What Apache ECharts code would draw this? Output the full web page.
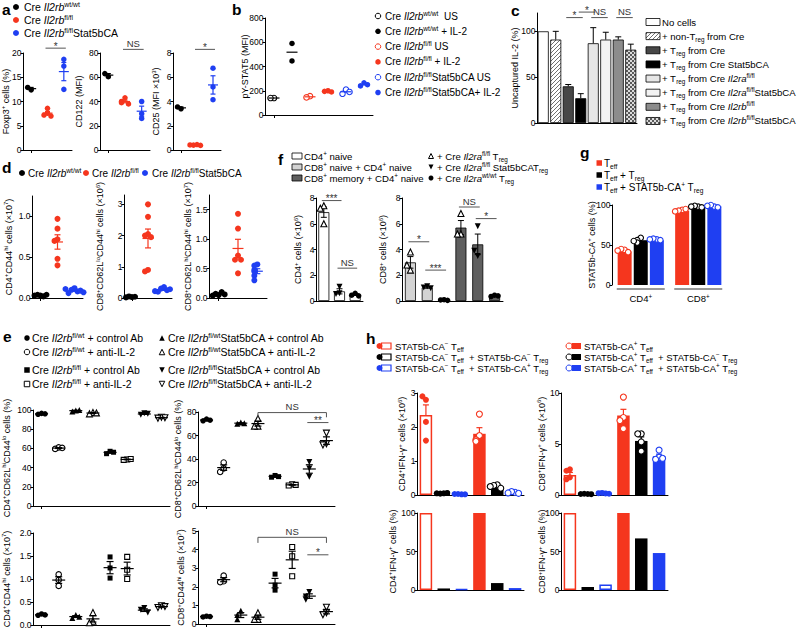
<!DOCTYPE html>
<html>
<head>
<meta charset="utf-8">
<script src="https://cdn.jsdelivr.net/npm/echarts@6/dist/echarts.min.js"></script>
<style>
html,body{margin:0;padding:0;background:#fff;}
#chart{width:800px;height:629px;}
</style>
</head>
<body>
<div id="chart"></div>
<script>
// ================= DATA =================
// panel a
const aGroups = ['Cre Il2rb wt/wt', 'Cre Il2rb fl/fl', 'Cre Il2rb fl/fl Stat5bCA'];
const aFoxp3 = [[12.4, 12.9], [8.6, 7.6, 7.2, 7.0], [18.7, 17.3, 12.5]];
const aCD122 = [[60.5, 63], [43, 40, 39, 38], [40, 30, 26]];
const aCD25 = [[3.4, 3.55], [0.45, 0.4, 0.38, 0.42], [6.75, 5.2, 4.15]];
const aTicksFoxp3 = [0, 5, 10, 15, 20];
const aTicksCD122 = [0, 20, 40, 60, 80];
const aTicksCD25 = [0, 2, 4, 6, 8];
// panel b
const bGroups = ['wt/wt US', 'wt/wt + IL-2', 'fl/fl US', 'fl/fl + IL-2', 'fl/fl Stat5bCA US', 'fl/fl Stat5bCA + IL-2'];
const bPSTAT5 = [[140, 140], [590, 446], [155, 145], [200, 195, 190], [210, 175, 190], [265, 240, 250]];
const bTicks = [0, 200, 400, 600, 800];
// panel c
const cConds = ['No cells', '+ non-Treg from Cre', '+ Treg from Cre', '+ Treg from Cre Stat5bCA',
  '+ Treg from Cre Il2ra fl/fl', '+ Treg from Cre Il2ra fl/fl Stat5bCA', '+ Treg from Cre Il2rb fl/fl', '+ Treg from Cre Il2rb fl/fl Stat5bCA'];
const cUncaptured = [100, 91, 40, 27, 87, 91, 91, 80];
const cSEM = [0, 9, 2, 5, 17, 8, 3, 6];
const cTicks = [0, 50, 100];
// panel d
const dGroups = ['Cre Il2rb wt/wt', 'Cre Il2rb fl/fl', 'Cre Il2rb fl/fl Stat5bCA'];
const dCD4hi = [[0.03, 0.04, 0.02, 0.03, 0.04], [0.97, 0.85, 0.72, 0.70, 0.48, 0.40], [0.12, 0.10, 0.08, 0.06, 0.09, 0.11, 0.07]];
const dCD8lo = [[0.03, 0.05, 0.04, 0.02], [3.0, 2.6, 2.05, 2.0, 1.95, 0.9, 0.85], [0.35, 0.30, 0.25, 0.20, 0.28, 0.22]];
const dCD8hi = [[0.05, 0.07, 0.10, 0.04, 0.06], [1.43, 1.18, 0.72, 0.65, 0.65, 0.42], [0.57, 0.55, 0.48, 0.45, 0.38, 0.30]];
const dTicks1 = [0, 0.5, 1.0];
const dTicks2 = [0, 1, 2, 3];
const dTicks3 = [0, 0.5, 1.0, 1.5];
// panel e
const eGroups = ['fl/wt + control Ab', 'fl/wt + anti-IL-2', 'fl/wt Stat5bCA + control Ab', 'fl/wt Stat5bCA + anti-IL-2',
  'fl/fl + control Ab', 'fl/fl + anti-IL-2', 'fl/fl Stat5bCA + control Ab', 'fl/fl Stat5bCA + anti-IL-2'];
const eCD4Naive = [[96.5, 95.5, 96], [61, 59.5, 60.5], [99.5, 98.5, 100], [97.5, 96, 97], [57, 54.5, 56], [48.5, 48, 49], [96.5, 95, 96], [92.5, 91.5, 92]];
const eCD8Naive = [[74, 72.5, 73], [37, 32, 29], [71, 70, 70.5], [74.5, 68, 68], [26, 24.5, 25], [18.5, 17.5, 18], [37.5, 32, 25], [62, 53, 52]];
const eCD4Mem = [[0.24, 0.21, 0.22], [1.1, 0.98, 0.85], [0.22, 0.15, 0.18], [0.27, 0.08, 0.05], [1.48, 1.24, 1.02], [1.48, 1.2, 1.0], [0.37, 0.33, 0.27], [0.42, 0.38, 0.40]];
const eCD8Mem = [[0.42, 0.38, 0.40], [2.6, 2.3, 2.25], [0.71, 0.48, 0.25], [0.6, 0.25, 0.25], [2.68, 2.09, 1.82], [4.14, 3.64, 2.57], [1.72, 1.48, 1.3], [0.9, 0.6, 0.5]];
const eTicks1 = [0, 20, 40, 60, 80, 100];
const eTicks2 = [0, 20, 40, 60, 80];
const eTicks3 = [0, 0.5, 1.0, 1.5, 2.0];
const eTicks4 = [0, 1, 2, 3, 4, 5];
// panel f
const f1Groups = ['CD4 naive + Il2ra fl/fl Treg', 'CD4 naive + Il2ra fl/fl Stat5bCA Treg', 'CD4 naive + Il2ra wt/wt Treg'];
const f1Bars = [6.9, 0.75, 0.5];
const f1SEM = [0.4, 0.2, 0.07];
const f1Pts = [[7.4, 7.2, 6.0], [1.1, 0.6, 0.55], [0.6, 0.45, 0.4]];
const f2Groups = ['CD8 naive + fl/fl Treg', 'CD8 naive + fl/fl CA Treg', 'CD8 naive + wt/wt Treg', 'CD8 memory + fl/fl Treg', 'CD8 memory + fl/fl CA Treg', 'CD8 memory + wt/wt Treg'];
const f2Bars = [3.0, 1.05, 0.08, 5.7, 4.4, 0.4];
const f2SEM = [0.45, 0.05, 0.02, 0.55, 0.8, 0.03];
const f2Pts = [[3.8, 2.4, 2.8], [1.15, 1.05, 1.0], [0.1, 0.08, 0.05], [6.8, 5.2, 5.2], [5.8, 3.5, 3.9], [0.45, 0.35, 0.4]];
const fTicks = [0, 2, 4, 6, 8];
// panel g
const gCats = ['CD4+', 'CD8+'];
const gTeff = [42, 92.5];
const gTeffTreg = [56, 98.5];
const gTeffCATreg = [56, 98.5];
const gTeffPts = [[44, 45, 41, 43], [94, 93, 95, 92]];
const gTeffTregPts = [[59, 56, 53, 55], [98, 99, 97, 98]];
const gTeffCATregPts = [[57, 58, 56, 57], [98, 100, 97, 99]];
const gTicks = [0, 50, 100];
// panel h
const hGroups = ['CA- Teff', 'CA- Teff + CA- Treg', 'CA- Teff + CA+ Treg', 'CA+ Teff', 'CA+ Teff + CA- Treg', 'CA+ Teff + CA+ Treg'];
const h1Bars = [2.35, 0.05, 0.03, 1.8, 0.25, 0.07];
const h1SEM = [0.3, 0.01, 0.005, 0.18, 0.03, 0.02];
const h1Pts = [[2.8, 2.9, 2.15, 1.6], [0.05, 0.04, 0.06, 0.05], [0.02, 0.03, 0.02, 0.03], [2.38, 1.75, 1.62, 1.58], [0.3, 0.28, 0.2, 0.25], [0.08, 0.1, 0.05, 0.06]];
const h2Bars = [1.96, 0.1, 0.15, 7.8, 5.3, 3.8];
const h2SEM = [0.25, 0.02, 0.03, 0.6, 0.4, 0.2];
const h2Pts = [[2.52, 2.38, 1.73, 1.54], [0.1, 0.12, 0.08, 0.1], [0.15, 0.2, 0.12, 0.18], [9.6, 7.6, 7.3, 6.5], [6.0, 6.0, 5.2, 4.3], [4.4, 3.7, 3.5, 3.6]];
const h3Bars = [100, 2, 1, 100, 9, 2.5];
const h4Bars = [100, 4, 7, 100, 67, 48];
const hTicks1 = [0, 1, 2, 3];
const hTicks2 = [0, 5, 10];
const hTicksPct = [0, 50, 100];

// ================= STYLE / LAYOUT =================
const FONT = '"Liberation Sans", Arial, Helvetica, sans-serif';
const RED = '#f5361e', BLUE = '#1f3ff2', BLACK = '#000000';
const LAYOUT = {
  a1: {left: 23, top: 53, width: 49, height: 97, gap: 12},
  a2: {left: 100, top: 53, width: 50, height: 97, gap: 15.5},
  a3: {left: 173, top: 53, width: 48, height: 97, gap: 11.5},
  b: {left: 265, top: 18, width: 108, height: 97, gap: 14.5},
  c: {left: 537, top: 13, width: 100, height: 110, gap: 16.5},
  d1: {left: 32, top: 196, width: 51, height: 102, gap: 18},
  d2: {left: 124, top: 195, width: 48, height: 103, gap: 18.5},
  d3: {left: 209, top: 195, width: 58, height: 103, gap: 15.5},
  e1: {left: 33, top: 410, width: 137, height: 96, gap: 21},
  e2: {left: 198, top: 412, width: 137, height: 94, gap: 14.5},
  e3: {left: 33, top: 533, width: 137, height: 92, gap: 21},
  e4: {left: 198, top: 531, width: 137, height: 93, gap: 11.5},
  f1: {left: 316, top: 198, width: 47, height: 103, gap: 12.5},
  f2: {left: 402, top: 198, width: 101, height: 103, gap: 13.5},
  g: {left: 612, top: 205, width: 115, height: 80, gap: 15},
  h1: {left: 417, top: 393, width: 107, height: 102, gap: 9.5},
  h2: {left: 561, top: 393, width: 107, height: 102, gap: 14},
  h3: {left: 417, top: 513, width: 107, height: 77, gap: 19},
  h4: {left: 561, top: 513, width: 107, height: 77, gap: 13.5}
};

function rich(fs) {
  const s = Math.round(fs * 0.66 * 10) / 10;
  return {
    sup: {fontSize: s, lineHeight: s, verticalAlign: 'top', fontFamily: FONT, color: '#000', fill: '#000'},
    sub: {fontSize: s, lineHeight: s, verticalAlign: 'bottom', fontFamily: FONT, color: '#000', fill: '#000'},
    i: {fontSize: fs, fontStyle: 'italic', fontFamily: FONT, color: '#000', fill: '#000'}
  };
}
const mean = a => a.reduce((s, v) => s + v, 0) / a.length;
const sem = a => { const m = mean(a); return Math.sqrt(a.reduce((s, v) => s + (v - m) * (v - m), 0) / (a.length - 1)) / Math.sqrt(a.length); };

const IDX = {};
const grids = [], xAxes = [], yAxes = [], series = [];
function addPanel(key, cats, yMax, ticks, dec, name, xo) {
  xo = xo || {};
  const L = LAYOUT[key]; const gi = grids.length; IDX[key] = gi;
  grids.push({left: L.left, top: L.top, width: L.width, height: L.height, containLabel: false, outerBoundsMode: 'none'});
  xAxes.push({type: 'category', gridIndex: gi, data: cats, boundaryGap: true,
    axisLine: {show: xo.line !== false, onZero: false, lineStyle: {color: '#000', width: 1}},
    axisTick: {show: !!xo.tick, alignWithLabel: true, length: 3, lineStyle: {color: '#000', width: 1}},
    axisLabel: xo.label ? Object.assign({show: true, interval: 0, color: '#000', fontFamily: FONT, fontSize: 9.5, rich: rich(9.5)}, xo.label) : {show: false},
    splitLine: {show: false}});
  yAxes.push({type: 'value', gridIndex: gi, min: 0, max: yMax,
    axisLine: {show: true, onZero: false, lineStyle: {color: '#000', width: 1}},
    axisTick: {show: true, length: 2.5, lineStyle: {color: '#000', width: 1}, customValues: ticks},
    axisLabel: {show: true, margin: 1.5, color: '#000', fontFamily: FONT, fontSize: 8.5, customValues: ticks,
      formatter: v => Number(v).toFixed(dec)},
    splitLine: {show: false},
    name: name, nameLocation: 'middle', nameGap: L.gap, nameRotate: 90, nameMoveOverlap: false,
    nameTextStyle: {color: '#000', fontFamily: FONT, fontSize: 9, lineHeight: 11, rich: rich(9)}});
  return gi;
}

function swarm(vals, thr, step) {
  return vals.map((v, k) => {
    let n = 0;
    for (let j = 0; j < k; j++) if (Math.abs(vals[j] - v) < thr) n++;
    return n === 0 ? 0 : (n % 2 ? -1 : 1) * Math.ceil(n / 2) * step;
  });
}
function scatter(gi, ci, vals, st, thr, base) {
  const dx = swarm(vals, thr, st.step || 3.5);
  series.push({type: 'scatter', xAxisIndex: gi, yAxisIndex: gi, z: 4, silent: true, clip: false,
    symbol: st.sym, symbolSize: st.size || 5.5, symbolRotate: st.rot || 0,
    itemStyle: st.open ? {color: '#fff', borderColor: st.color, borderWidth: 1.1, opacity: 1} : {color: st.color, borderWidth: 0, opacity: 1},
    data: vals.map((v, k) => ({value: [ci, v], symbolOffset: [(base || 0) + dx[k], 0]}))});
}
function stats(gi, items, opt) {
  series.push({type: 'custom', xAxisIndex: gi, yAxisIndex: gi, z: opt.z || 5, silent: true, clip: false,
    data: items.map(it => ({value: [it.ci, it.m, it.s], itemStyle: {color: it.color}})),
    encode: {x: 0, y: 1},
    renderItem: function (params, api) {
      const ci = api.value(0), m = api.value(1), s = api.value(2);
      const col = api.visual('color');
      const p = api.coord([ci, m]); const cx = p[0];
      const st = {stroke: col, lineWidth: opt.lw || 1.2, fill: null};
      const ch = [];
      if (opt.mean) ch.push({type: 'line', shape: {x1: cx - opt.mean, y1: p[1], x2: cx + opt.mean, y2: p[1]}, style: st});
      if (s > 0 && opt.cap) {
        const pt = api.coord([ci, m + s]); const pb = api.coord([ci, opt.up ? m : m - s]);
        ch.push({type: 'line', shape: {x1: cx, y1: pb[1], x2: cx, y2: pt[1]}, style: st});
        ch.push({type: 'line', shape: {x1: cx - opt.cap, y1: pt[1], x2: cx + opt.cap, y2: pt[1]}, style: st});
        if (!opt.up) ch.push({type: 'line', shape: {x1: cx - opt.cap, y1: pb[1], x2: cx + opt.cap, y2: pb[1]}, style: st});
      }
      return {type: 'group', children: ch};
    }});
}
function dotPanel(key, groups, styles, max, opt) {
  const gi = IDX[key];
  groups.forEach((vals, ci) => scatter(gi, ci, vals, styles[ci], max * 0.05));
  stats(gi, groups.map((v, ci) => ({ci, m: mean(v), s: opt.sem ? sem(v) : 0, color: styles[ci].color})), opt);
}
function bars(key, vals, itemStyles, w, extra) {
  series.push(Object.assign({type: 'bar', xAxisIndex: IDX[key], yAxisIndex: IDX[key], z: 2, silent: true, barWidth: w,
    data: vals.map((v, i) => ({value: v, itemStyle: itemStyles[i]}))}, extra || {}));
}
function pattern(kind) {
  const cv = document.createElement('canvas'); cv.width = 4; cv.height = 4;
  const x = cv.getContext('2d');
  if (kind === 'hatch') { x.fillStyle = '#fff'; x.fillRect(0, 0, 4, 4); x.fillStyle = '#707070'; for (let i = 0; i < 4; i++) x.fillRect(i, 3 - i, 1, 1); }
  else { x.fillStyle = '#dcdcdc'; x.fillRect(0, 0, 4, 4); x.fillStyle = '#5a5a5a'; x.fillRect(0, 0, 2, 2); x.fillRect(2, 2, 2, 2); }
  return {image: cv.toDataURL(), repeat: 'repeat', imageWidth: 4, imageHeight: 4};
}
const HATCH = pattern('hatch'), CHECK = pattern('check');

const FC = c => ({sym: 'circle', color: c});
const OC = c => ({sym: 'circle', color: c, open: true});
const FT = c => ({sym: 'triangle', color: c, size: 6});
const OT = c => ({sym: 'triangle', color: c, open: true, size: 6});
const FS = c => ({sym: 'rect', color: c, size: 5});
const OS = c => ({sym: 'rect', color: c, open: true, size: 5});
const FD = c => ({sym: 'triangle', color: c, rot: 180, size: 6});
const OD = c => ({sym: 'triangle', color: c, rot: 180, open: true, size: 6});

// ---------- panels ----------
const abdStyles = [FC(BLACK), FC(RED), FC(BLUE)];
addPanel('a1', aGroups, 20, aTicksFoxp3, 0, 'Foxp3{sup|+} cells (%)', {tick: true});
addPanel('a2', aGroups, 80, aTicksCD122, 0, 'CD122 (MFI)', {tick: true});
addPanel('a3', aGroups, 8, aTicksCD25, 0, 'CD25 (MFI ×10{sup|3})', {tick: true});
dotPanel('a1', aFoxp3, abdStyles, 20, {mean: 5, cap: 2.5, sem: true});
dotPanel('a2', aCD122, abdStyles, 80, {mean: 5, cap: 2.5, sem: true});
dotPanel('a3', aCD25, abdStyles, 8, {mean: 5, cap: 2.5, sem: true});

addPanel('b', bGroups, 800, bTicks, 0, 'pY-STAT5 (MFI)', {tick: true});
dotPanel('b', bPSTAT5, [OC(BLACK), FC(BLACK), OC(RED), FC(RED), OC(BLUE), FC(BLUE)], 800, {mean: 5.5, sem: false});

addPanel('c', cConds, 120, cTicks, 0, 'Uncaptured IL-2 (%)');
const cFills = ['#ffffff', HATCH, '#474747', '#000000', '#e6e6e6', '#f3f3f3', '#8c8c8c', CHECK];
bars('c', cUncaptured, cFills.map(f => ({color: f, borderColor: '#000', borderWidth: 0.8})), 11);
stats(IDX.c, cUncaptured.map((v, i) => ({ci: i, m: v, s: cSEM[i], color: '#000'})), {cap: 3, up: true, lw: 1, z: 3});

addPanel('d1', dGroups, 1.25, dTicks1, 1, 'CD4{sup|+}CD44{sup|hi} cells (×10{sup|7})', {tick: true});
addPanel('d2', dGroups, 3.3, dTicks2, 0, 'CD8{sup|+}CD62L{sup|lo}CD44{sup|hi} cells (×10{sup|6})', {tick: true});
addPanel('d3', dGroups, 1.75, dTicks3, 1, 'CD8{sup|+}CD62L{sup|hi}CD44{sup|hi} cells (×10{sup|7})', {tick: true});
const dSt = [FC(BLACK), FC(RED), FC(BLUE)].map(s => Object.assign(s, {size: 6, step: 3}));
dotPanel('d1', dCD4hi, dSt, 1.25, {mean: 5.5, cap: 3, sem: true});
dotPanel('d2', dCD8lo, dSt, 3.3, {mean: 5.5, cap: 3, sem: true});
dotPanel('d3', dCD8hi, dSt, 1.75, {mean: 5.5, cap: 3, sem: true});

const eSt = [FC(BLACK), OC(BLACK), FT(BLACK), OT(BLACK), FS(BLACK), OS(BLACK), FD(BLACK), OD(BLACK)];
addPanel('e1', eGroups, 100, eTicks1, 0, 'CD4{sup|+}CD62L{sup|hi}CD44{sup|lo} cells (%)', {tick: true});
addPanel('e2', eGroups, 80, eTicks2, 0, 'CD8{sup|+}CD62L{sup|hi}CD44{sup|lo} cells (%)', {tick: true});
addPanel('e3', eGroups, 2, eTicks3, 1, 'CD4{sup|+}CD44{sup|hi} cells (×10{sup|7})', {tick: true});
addPanel('e4', eGroups, 5, eTicks4, 0, 'CD8{sup|+}CD44{sup|hi} cells (×10{sup|7})', {tick: true});
dotPanel('e1', eCD4Naive, eSt, 100, {mean: 6.5, cap: 3.5, sem: true});
dotPanel('e2', eCD8Naive, eSt, 80, {mean: 6.5, cap: 3.5, sem: true});
dotPanel('e3', eCD4Mem, eSt, 2, {mean: 6.5, cap: 3.5, sem: true});
dotPanel('e4', eCD8Mem, eSt, 5, {mean: 6.5, cap: 3.5, sem: true});

addPanel('f1', f1Groups, 8, fTicks, 0, 'CD4{sup|+} cells (×10{sup|6})');
addPanel('f2', f2Groups, 8, fTicks, 0, 'CD8{sup|+} cells (×10{sup|6})');
bars('f1', f1Bars, ['#ffffff', '#ffffff', '#ffffff'].map(c => ({color: c, borderColor: '#000', borderWidth: 0.8})), 11);
bars('f2', f2Bars, ['#d3d3d3', '#d3d3d3', '#d3d3d3', '#5f5f5f', '#5f5f5f', '#5f5f5f'].map(c => ({color: c, borderColor: '#000', borderWidth: 0.8})), 11);
stats(IDX.f1, f1Bars.map((v, i) => ({ci: i, m: v, s: f1SEM[i], color: '#000'})), {cap: 3, lw: 1, z: 3});
stats(IDX.f2, f2Bars.map((v, i) => ({ci: i, m: v, s: f2SEM[i], color: '#000'})), {cap: 3, lw: 1, z: 3});
const fSt = [OT(BLACK), FD(BLACK), FC(BLACK)];
f1Pts.forEach((v, ci) => scatter(IDX.f1, ci, v, fSt[ci], 0.4));
f2Pts.forEach((v, ci) => scatter(IDX.f2, ci, v, fSt[ci % 3], 0.4));

addPanel('g', gCats, 100, gTicks, 0, 'STAT5b-CA{sup|+} cells (%)',
  {line: false, label: {margin: 8, formatter: v => v.replace('+', '{sup|+}')}});
const gSeries = [[gTeff, gTeffPts, RED], [gTeffTreg, gTeffTregPts, BLACK], [gTeffCATreg, gTeffCATregPts, BLUE]];
const gBarW = 14, gBarGapPx = 2.1;
gSeries.forEach(([bv, pts, col], s) => {
  bars('g', bv, bv.map(() => ({color: col})), gBarW, {barGap: '15%'});
  pts.forEach((v, ci) => scatter(IDX.g, ci, v, OC(col), 5, (s - 1) * (gBarW + gBarGapPx)));
});

const hCols = [RED, BLACK, BLUE, RED, BLACK, BLUE];
const hItem = hCols.map((c, i) => i < 3 ? {color: '#fff', borderColor: c, borderWidth: 1.5} : {color: c, borderWidth: 0});
addPanel('h1', hGroups, 3, hTicks1, 0, 'CD4{sup|+}IFN-γ{sup|+} cells (×10{sup|6})');
addPanel('h2', hGroups, 10, hTicks2, 0, 'CD8{sup|+}IFN-γ{sup|+} cells (×10{sup|6})');
addPanel('h3', hGroups, 100, hTicksPct, 0, 'CD4{sup|+}IFN-γ{sup|+} cells (%)');
addPanel('h4', hGroups, 100, hTicksPct, 0, 'CD8{sup|+}IFN-γ{sup|+} cells (%)');
bars('h1', h1Bars, hItem, 12.5);
bars('h2', h2Bars, hItem, 12.5);
bars('h3', h3Bars, hItem, 12.5);
bars('h4', h4Bars, hItem, 12.5);
stats(IDX.h1, h1Bars.map((v, i) => ({ci: i, m: v, s: h1SEM[i], color: hCols[i]})), {cap: 3, up: true, lw: 1.2, z: 3});
stats(IDX.h2, h2Bars.map((v, i) => ({ci: i, m: v, s: h2SEM[i], color: hCols[i]})), {cap: 3, up: true, lw: 1.2, z: 3});
h1Pts.forEach((v, ci) => scatter(IDX.h1, ci, v, Object.assign(ci < 3 ? FC(hCols[ci]) : OC(hCols[ci]), {size: 6}), 0.15));
h2Pts.forEach((v, ci) => scatter(IDX.h2, ci, v, Object.assign(ci < 3 ? FC(hCols[ci]) : OC(hCols[ci]), {size: 6}), 0.5));

// ---------- legends & labels (graphic) ----------
const G = [];
function txt(x, y, text, fs, extra) {
  G.push({type: 'text', x: x, y: y, silent: true, z: 100,
    style: Object.assign({text: text, fontSize: fs, fontFamily: FONT, fill: '#000', align: 'left', verticalAlign: 'middle',
      lineHeight: Math.round(fs * 1.25), rich: rich(fs)}, extra || {})});
}
function sym(kind, x, y, s, color, open) {
  let el;
  if (kind === 'circle') el = {type: 'circle', shape: {cx: x, cy: y, r: s / 2}};
  else if (kind === 'rect') el = {type: 'rect', shape: {x: x - s / 2, y: y - s / 2, width: s, height: s}};
  else if (kind === 'tri') el = {type: 'polygon', shape: {points: [[x, y - s / 2], [x + s / 2, y + s / 2], [x - s / 2, y + s / 2]]}};
  else el = {type: 'polygon', shape: {points: [[x, y + s / 2], [x + s / 2, y - s / 2], [x - s / 2, y - s / 2]]}};
  el.style = open ? {fill: '#fff', stroke: color, lineWidth: 1} : {fill: color, stroke: null};
  el.silent = true; el.z = 100; G.push(el);
}
function box(x, y, w, h, fill, stroke, lw) {
  G.push({type: 'rect', silent: true, z: 100, shape: {x: x, y: y - h / 2, width: w, height: h},
    style: {fill: fill, stroke: stroke || null, lineWidth: lw || 0}});
}
// panel letters
[['a', 2, 9], ['b', 232, 9], ['c', 511, 10.5], ['d', 2, 167.5], ['e', 3, 336], ['f', 278, 159], ['g', 580, 152], ['h', 366, 338]]
  .forEach(([t, x, y]) => txt(x, y, t, 15.5, {fontWeight: 'bold', lineHeight: 15}));
// a legend
const aLeg = ['Cre {i|Il2rb}{sup|wt/wt}', 'Cre {i|Il2rb}{sup|fl/fl}', 'Cre {i|Il2rb}{sup|fl/fl}Stat5bCA'];
[BLACK, RED, BLUE].forEach((c, k) => { const y = [7, 20, 33][k]; sym('circle', 16, y, 6, c); txt(24, y, aLeg[k], 10.5); });
// b legend
const bLeg = ['Cre {i|Il2rb}{sup|wt/wt}  US', 'Cre {i|Il2rb}{sup|wt/wt} + IL-2', 'Cre {i|Il2rb}{sup|fl/fl} US', 'Cre {i|Il2rb}{sup|fl/fl} + IL-2',
  'Cre {i|Il2rb}{sup|fl/fl}Stat5bCA US', 'Cre {i|Il2rb}{sup|fl/fl}Stat5bCA+ IL-2'];
[[BLACK, 1], [BLACK, 0], [RED, 1], [RED, 0], [BLUE, 1], [BLUE, 0]].forEach(([c, o], k) => {
  const y = 16 + 15.3 * k; sym('circle', 378, y, 5.5, c, o); txt(385, y, bLeg[k], 10);
});
// c legend
const cLeg = ['No cells', '+ non-T{sub|reg} from Cre', '+ T{sub|reg} from Cre', '+ T{sub|reg} from Cre Stat5bCA',
  '+ T{sub|reg} from Cre {i|Il2ra}{sup|fl/fl}', '+ T{sub|reg} from Cre {i|Il2ra}{sup|fl/fl}Stat5bCA',
  '+ T{sub|reg} from Cre {i|Il2rb}{sup|fl/fl}', '+ T{sub|reg} from Cre {i|Il2rb}{sup|fl/fl}Stat5bCA'];
cFills.forEach((f, k) => { const y = 22 + 14.14 * k; box(646, y, 14, 7, f, '#000', 0.8); txt(662, y, cLeg[k], 9.6); });
// d legend
const dLeg = ['Cre {i|Il2rb}{sup|wt/wt}', 'Cre {i|Il2rb}{sup|fl/fl}', 'Cre {i|Il2rb}{sup|fl/fl}Stat5bCA'];
[[22, 28, BLACK], [86, 92, RED], [145, 152, BLUE]].forEach(([mx, tx, c], k) => { sym('circle', mx, 173, 6, c); txt(tx, 173, dLeg[k], 10); });
// e legend
const eLeg = ['Cre {i|Il2rb}{sup|fl/wt} + control Ab', 'Cre {i|Il2rb}{sup|fl/wt} + anti-IL-2', 'Cre {i|Il2rb}{sup|fl/fl} + control Ab', 'Cre {i|Il2rb}{sup|fl/fl} + anti-IL-2',
  'Cre {i|Il2rb}{sup|fl/wt}Stat5bCA + control Ab', 'Cre {i|Il2rb}{sup|fl/wt}Stat5bCA + anti-IL-2', 'Cre {i|Il2rb}{sup|fl/fl}Stat5bCA + control Ab', 'Cre {i|Il2rb}{sup|fl/fl}Stat5bCA + anti-IL-2'];
const eLegSym = [['circle', 0], ['circle', 1], ['rect', 0], ['rect', 1], ['tri', 0], ['tri', 1], ['dtri', 0], ['dtri', 1]];
const eRows = [338, 352, 370, 384];
eLeg.forEach((t, k) => {
  const col = k < 4 ? 0 : 1, row = k % 4;
  const mx = col ? 162 : 27, tx = col ? 168 : 32;
  sym(eLegSym[k][0], mx, eRows[row], 5.5, BLACK, eLegSym[k][1]); txt(tx, eRows[row], t, 10.5);
});
// f legend
const fLegL = ['CD4{sup|+} naive', 'CD8{sup|+} naive + CD4{sup|+} naive', 'CD8{sup|+} memory + CD4{sup|+} naive'];
const fLegR = ['+ Cre {i|Il2ra}{sup|fl/fl} T{sub|reg}', '+ Cre {i|Il2ra}{sup|fl/fl} Stat5bCAT{sub|reg}', '+ Cre {i|Il2ra}{sup|wt/wt} T{sub|reg}'];
const fRows = [156, 167, 178];
['#ffffff', '#d3d3d3', '#5f5f5f'].forEach((c, k) => { box(292, fRows[k], 10, 6, c, '#000', 0.8); txt(304, fRows[k], fLegL[k], 9.6); });
[['tri', 1], ['dtri', 0], ['circle', 0]].forEach(([s, o], k) => { sym(s, 431, fRows[k], 5, BLACK, o); txt(437, fRows[k], fLegR[k], 9.6); });
// g legend
const gLeg = ['T{sub|eff}', 'T{sub|eff} + T{sub|reg}', 'T{sub|eff} + STAT5b-CA{sup|+} T{sub|reg}'];
[RED, BLACK, BLUE].forEach((c, k) => { const y = [163, 175, 187][k]; box(596.5, y, 5.5, 5.5, c); txt(604, y, gLeg[k], 10); });
// h legend
const hLegL = ['STAT5b-CA{sup|−} T{sub|eff}', 'STAT5b-CA{sup|−} T{sub|eff}  + STAT5b-CA{sup|−} T{sub|reg}', 'STAT5b-CA{sup|−} T{sub|eff}  + STAT5b-CA{sup|+} T{sub|reg}'];
const hLegR = ['STAT5b-CA{sup|+} T{sub|eff}', 'STAT5b-CA{sup|+} T{sub|eff}  + STAT5b-CA{sup|−} T{sub|reg}', 'STAT5b-CA{sup|+} T{sub|eff}  + STAT5b-CA{sup|+} T{sub|reg}'];
const hRows = [346, 357, 368];
[RED, BLACK, BLUE].forEach((c, k) => {
  const y = hRows[k];
  box(381.5, y, 9.5, 6, '#fff', c, 1.2); sym('circle', 379.5, y, 6, c); txt(395, y, hLegL[k], 9.5);
  box(571.5, y, 9.5, 6, c); sym('circle', 569, y, 6, c, 1); txt(584, y, hLegR[k], 9.5);
});

// significance annotations (category index / data value)
const SIG = [
  {p: 'a1', x1: 1, x2: 2, y: 21, t: '*'},
  {p: 'a2', x1: 1, x2: 2, y: 83, t: 'NS'},
  {p: 'a3', x1: 1, x2: 2, y: 8.3, t: '*'},
  {p: 'c', x1: 2, x2: 3, y: 115, t: '*'},
  {p: 'c', x1: 3, x2: 4, y: 121, t: '*'},
  {p: 'c', x1: 4, x2: 5, y: 115, t: 'NS'},
  {p: 'c', x1: 6, x2: 7, y: 115, t: 'NS'},
  {p: 'e2', x1: 3, x2: 7, y: 79.5, drop: 4, t: 'NS'},
  {p: 'e2', x1: 6, x2: 7, y: 71, t: '**'},
  {p: 'e4', x1: 3, x2: 7, y: 4.66, drop: 0.3, t: 'NS'},
  {p: 'e4', x1: 6, x2: 7, y: 3.72, t: '*'},
  {p: 'f1', x1: 0, x2: 1, y: 7.8, t: '***'},
  {p: 'f1', x1: 1, x2: 2, y: 2.55, t: 'NS'},
  {p: 'f2', x1: 0, x2: 1, y: 4.6, t: '*'},
  {p: 'f2', x1: 1, x2: 2, y: 2.4, t: '***'},
  {p: 'f2', x1: 3, x2: 4, y: 7.3, t: 'NS'},
  {p: 'f2', x1: 4, x2: 5, y: 6.4, t: '*'}
];

const chart = echarts.init(document.getElementById('chart'), null, {renderer: 'svg', width: 800, height: 629});
chart.setOption({
  animation: false, backgroundColor: '#ffffff', textStyle: {fontFamily: FONT},
  grid: grids, xAxis: xAxes, yAxis: yAxes, series: series
});

const A = [];
function ln(x1, y1, x2, y2, col, w) {
  A.push({type: 'line', silent: true, z: 90, shape: {x1: x1, y1: y1, x2: x2, y2: y2}, style: {stroke: col || '#555', lineWidth: w || 1}});
}
SIG.forEach(m => {
  const gi = IDX[m.p];
  const p1 = chart.convertToPixel({gridIndex: gi}, [m.x1, m.y]);
  const p2 = chart.convertToPixel({gridIndex: gi}, [m.x2, m.y]);
  const pad = m.drop != null ? 0 : 2;
  ln(p1[0] - pad, p1[1], p2[0] + pad, p2[1]);
  if (m.drop != null) {
    const pd = chart.convertToPixel({gridIndex: gi}, [m.x1, m.y - m.drop]);
    ln(p1[0], p1[1], p1[0], pd[1]); ln(p2[0], p2[1], p2[0], pd[1]);
  }
  const star = m.t.charAt(0) === '*';
  A.push({type: 'text', silent: true, z: 90, x: (p1[0] + p2[0]) / 2, y: p1[1] - (star ? 2 : 6),
    style: {text: m.t, fontSize: star ? 10 : 9.5, fontFamily: FONT, fill: '#333', align: 'center', verticalAlign: 'middle'}});
});
// group brackets under panel g
gCats.forEach((c, ci) => {
  const p = chart.convertToPixel({gridIndex: IDX.g}, [ci, 0]);
  ln(p[0] - 24, p[1] + 4, p[0] + 24, p[1] + 4, '#777', 1.5);
});
chart.setOption({graphic: G.concat(A)});
</script>
</body>
</html>
